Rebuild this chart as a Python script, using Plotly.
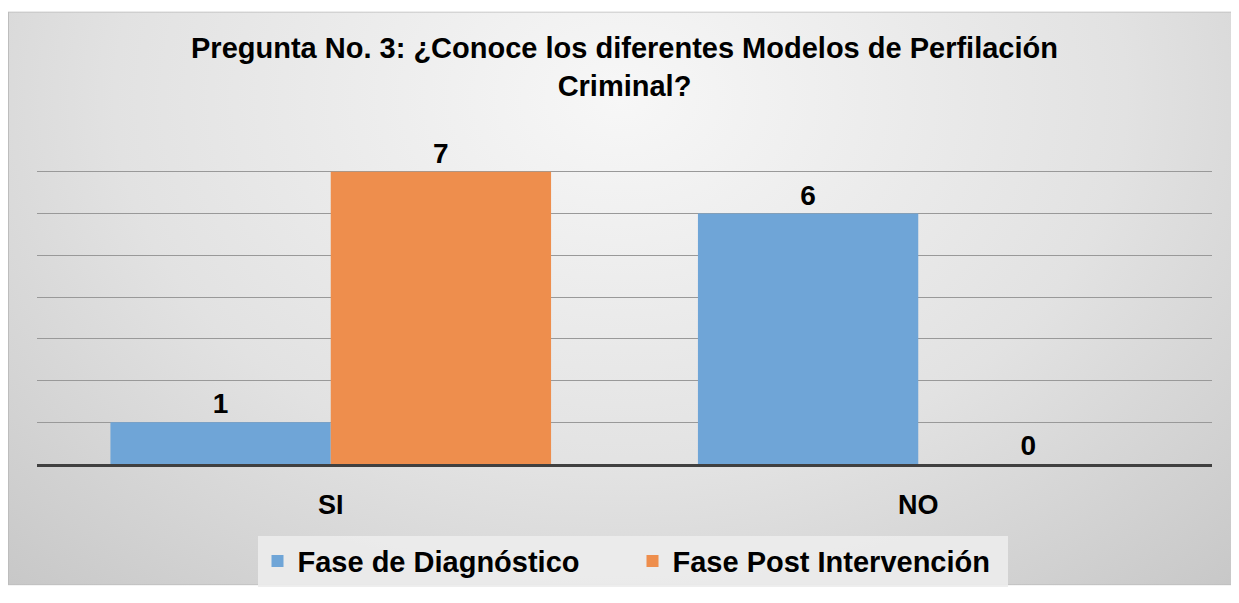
import base64
import plotly.graph_objects as go

categories = ["SI", "NO"]
diagnostico = [1, 6]
post_intervencion = [7, 0]
series_names = ["Fase de Diagnóstico", "Fase Post Intervención"]
title_text = "Pregunta No. 3: ¿Conoce los diferentes Modelos de Perfilación<br>Criminal?"

W, H = 1225, 591
L, R, T, B = 29, 21, 122, 125
pw, ph = W - L - R, H - T - B

FONT = "Liberation Sans, Arial, sans-serif"

svg = """<svg xmlns='http://www.w3.org/2000/svg' width='1225' height='591' viewBox='0 0 1225 591' preserveAspectRatio='none'>
<defs><radialGradient id='g' cx='50%' cy='15%' r='75%' gradientTransform='translate(0.5,0.15) scale(1,1.6) translate(-0.5,-0.15)'>
<stop offset='0' stop-color='#f7f7f7'/><stop offset='0.55' stop-color='#e2e2e2'/><stop offset='1' stop-color='#c6c6c6'/></radialGradient></defs>
<rect x='0' y='0' width='1225' height='591' fill='url(#g)'/>
<rect x='0.5' y='0.5' width='1224' height='590' fill='none' stroke='#bdbdbd' stroke-width='1'/></svg>"""
src = "data:image/svg+xml;base64," + base64.b64encode(svg.encode()).decode()


def px_to_paper_x(px):
    return (px - L) / pw


def px_to_paper_y(py):
    return (H - B - py) / ph


fig = go.Figure()
for vals, name, color in [(diagnostico, series_names[0], "#6FA5D7"),
                          (post_intervencion, series_names[1], "#EE8E4D")]:
    fig.add_trace(go.Bar(
        x=categories, y=vals, name=name,
        marker=dict(color=color, line=dict(width=0)),
        text=vals, textposition="outside", cliponaxis=False,
        textfont=dict(family=FONT, size=28, color="black", weight="bold"),
    ))

fig.update_layout(
    width=W, height=H,
    margin=dict(l=L, r=R, t=T, b=B),
    paper_bgcolor="white",
    plot_bgcolor="rgba(0,0,0,0)",
    barmode="group", bargap=0.25, bargroupgap=0,
    title=dict(text=title_text, x=0.5, xref="paper", xanchor="center",
               y=1 - 50 / H, yref="container", yanchor="middle",
               font=dict(family=FONT, size=29, color="black", weight="bold")),
    xaxis=dict(showgrid=False, showline=True, linecolor="#404040", linewidth=3,
               ticks="outside", ticklen=15, tickcolor="rgba(0,0,0,0)",
               tickfont=dict(family=FONT, size=27, color="black", weight="bold")),
    yaxis=dict(range=[0, 8.003], dtick=1, showgrid=True, gridcolor="#999999", gridwidth=1,
               showticklabels=False, zeroline=False, showline=False),
    showlegend=True,
    legend=dict(orientation="h", x=0.5 + 8 / pw, xanchor="center", xref="paper",
                y=px_to_paper_y(566), yanchor="middle",
                bgcolor="rgba(236,236,236,0.9)", borderwidth=0,
                font=dict(family=FONT, size=29, color="black", weight="bold"),
                itemwidth=30, entrywidth=330, traceorder="normal"),
    images=[dict(source=src, xref="paper", yref="paper",
                 x=px_to_paper_x(0), y=px_to_paper_y(0),
                 sizex=W / pw, sizey=H / ph,
                 sizing="stretch", xanchor="left", yanchor="top", layer="below")],
)

fig.write_html("out.html")
